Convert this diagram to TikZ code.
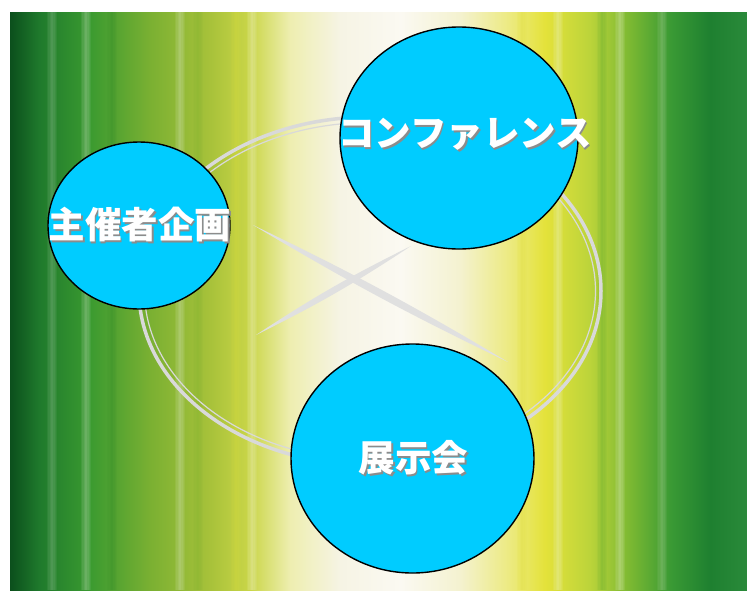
\documentclass[tikz,border=0pt]{standalone}
\usepackage{fontspec}
\newfontfamily\jpfont{Noto Sans CJK JP}
\usetikzlibrary{shapes.geometric}

\definecolor{bubblecyan}{HTML}{00CCFF}
\definecolor{ringgray}{HTML}{D9D9D9}
\definecolor{crossgray}{HTML}{E0E0E0}
\definecolor{bgA}{HTML}{0B4F1C}
\definecolor{bgB}{HTML}{1F7A2C}
\definecolor{bgC}{HTML}{3A9A30}
\definecolor{bgD}{HTML}{7AB032}
\definecolor{bgE}{HTML}{A8C23A}
\definecolor{bgF}{HTML}{CAD648}
\definecolor{bgG}{HTML}{EEEEB0}
\definecolor{bgH}{HTML}{F6F4E4}
\definecolor{bgI}{HTML}{FBF9F2}
\definecolor{bgJ}{HTML}{F4F2D0}
\definecolor{bgK}{HTML}{ECEA80}
\definecolor{bgL}{HTML}{E4E23A}
\definecolor{bgM}{HTML}{BCD43A}
\definecolor{bgN}{HTML}{7AB832}
\definecolor{bgO}{HTML}{3A9A34}
\definecolor{bgP}{HTML}{1E8030}
\definecolor{bgQ}{HTML}{2A8A3A}

\pgfdeclarehorizontalshading{meadow}{100bp}{%
  color(0bp)=(bgA); color(25bp)=(bgA); color(27bp)=(bgB); color(30.4bp)=(bgC);
  color(34.5bp)=(bgD); color(38.6bp)=(bgE); color(41.3bp)=(bgF); color(44bp)=(bgG);
  color(47.4bp)=(bgH); color(51.5bp)=(bgI); color(55.5bp)=(bgJ); color(58.9bp)=(bgK);
  color(61.3bp)=(bgL); color(64.3bp)=(bgM); color(67.1bp)=(bgN); color(69.8bp)=(bgO);
  color(72.5bp)=(bgP); color(75bp)=(bgQ); color(100bp)=(bgQ)}

% white text with a soft drop shadow
\newcommand{\shadowed}[1]{\makebox[0pt][l]{\hspace{1.6pt}\raisebox{-1.6pt}{\textcolor{black!45}{#1}}}#1}

\begin{document}
\begin{tikzpicture}[x=1pt,y=-1pt,
    bubble/.style={ellipse, draw=black, line width=1.4pt, fill=bubblecyan, inner sep=0pt},
    caption/.style={text=white, font=\jpfont\bfseries\fontsize{36.5}{40}\selectfont, inner sep=0pt}]
    \useasboundingbox (0,0) rectangle (747,590);

    % background with soft vertical streaks
    \shade[shading=meadow] (10,12) rectangle (747,590);
    \foreach \x/\c/\o in {52/white/0.05, 86/white/0.07, 112/bgB/0.05, 180/white/0.07,
                          198/bgD/0.08, 236/bgL/0.08, 252/white/0.08, 522/bgL/0.09,
                          558/white/0.08, 602/bgC/0.06, 620/white/0.08, 662/white/0.05}
        \foreach \k in {1,...,4}
            \draw[\c, opacity=\o, line width=\k*2.5pt] (\x,12) -- (\x,590);

    % ring behind the circles
    \draw[ringgray, line width=3.5pt] (370,291) ellipse [x radius=231, y radius=174];
    \draw[ringgray, line width=1.2pt] (370,291) ellipse [x radius=225.5, y radius=168.5];

    % the cross in the middle
    \coordinate (xa) at (253,225);
    \coordinate (xb) at (508,362);
    \coordinate (ya) at (256,335);
    \coordinate (yb) at (411,246);
    \fill[crossgray] (xa) to[bend left=2.5] (xb) to[bend left=2.5] (xa);
    \fill[crossgray] (ya) to[bend left=3.5] (yb) to[bend left=3.5] (ya);

    % three circles
    \node[bubble, minimum width=182, minimum height=167,
          label={[caption, xshift=1pt]center:\shadowed{主催者企画}}] (plan) at (139,225.5) {};
    \node[bubble, minimum width=238, minimum height=222,
          label={[caption, xshift=6pt, yshift=3pt]center:\shadowed{コンファレンス}}] (conf) at (459,138) {};
    \node[bubble, minimum width=243, minimum height=229,
          label={[caption, xshift=1pt]center:\shadowed{展示会}}] (expo) at (412.5,458.5) {};
\end{tikzpicture}
\end{document}
